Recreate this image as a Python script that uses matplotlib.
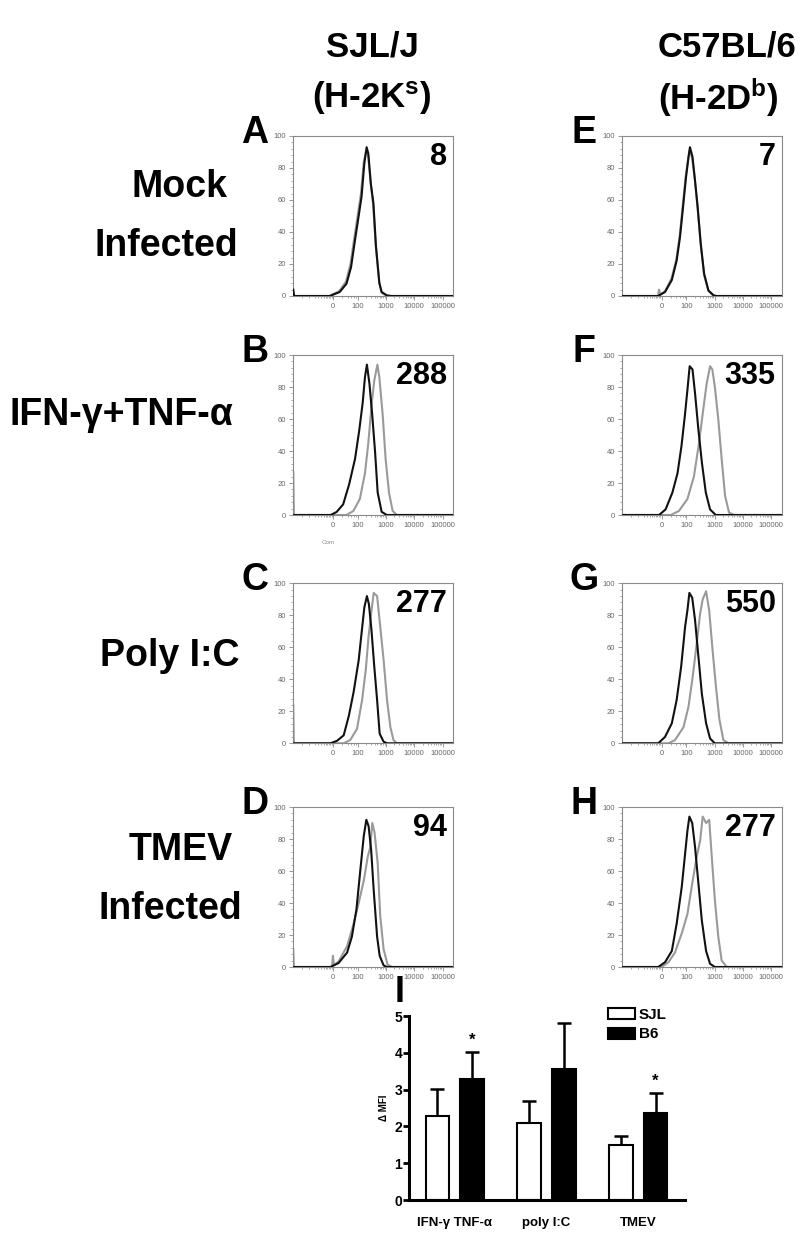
import numpy as np
import matplotlib
matplotlib.use("Agg")
import matplotlib.pyplot as plt
from matplotlib.ticker import FixedLocator, MultipleLocator

plt.rcParams['font.family'] = ['Liberation Sans', 'DejaVu Sans']
plt.rcParams['mathtext.fontset'] = 'custom'
plt.rcParams['mathtext.rm'] = 'Liberation Sans:bold'
plt.rcParams['mathtext.it'] = 'Liberation Sans:bold'
plt.rcParams['mathtext.bf'] = 'Liberation Sans:bold'

# ---- histogram data: (position on display axis in decades, % of max) ----
# x axis labels (biexponential display)
xtick_pos = [1.14, 2, 3, 4, 5]
xtick_lab = ["0", "100", "1000", "10000", "100000"]

# A: SJL/J mock
a_blk = [(-0.27, 4), (-0.24, 0), (1.02, 0), (1.37, 2.5), (1.61, 7.7), (1.77, 18), (1.91, 35),
         (2.03, 49), (2.14, 62), (2.24, 83), (2.32, 93), (2.38, 89), (2.47, 70), (2.56, 58),
         (2.65, 31), (2.77, 8), (2.85, 2.5), (3.03, 0.4), (3.2, 0), (5.37, 0)]
a_gry = [(-0.24, 0), (1.0, 0), (1.35, 3), (1.59, 9), (1.75, 20), (1.89, 37), (2.01, 51),
         (2.12, 64), (2.22, 84), (2.31, 91), (2.37, 88), (2.46, 71), (2.55, 57), (2.64, 32),
         (2.76, 9), (2.85, 2), (3.05, 0), (5.37, 0)]
# B: SJL/J IFN-g + TNF-a
b_blk = [(-0.24, 0), (1.05, 0), (1.26, 1.9), (1.49, 6.6), (1.70, 19), (1.91, 35), (2.06, 53),
         (2.18, 70), (2.26, 86), (2.33, 94), (2.42, 82), (2.52, 62), (2.62, 39), (2.71, 14),
         (2.85, 2), (3.03, 0), (5.37, 0)]
b_gry = [(-0.27, 27), (-0.25, 0), (1.61, 0), (1.85, 2.5), (2.08, 10), (2.26, 26), (2.38, 45),
         (2.50, 70), (2.59, 84), (2.70, 94), (2.77, 86), (2.89, 62), (2.99, 35), (3.11, 14),
         (3.24, 2.5), (3.39, 0), (5.37, 0)]
# C: SJL/J poly I:C
c_blk = [(-0.24, 0), (1.04, 0), (1.27, 1.5), (1.51, 5), (1.69, 17), (1.86, 32), (2.04, 52),
         (2.13, 67), (2.24, 85), (2.33, 92), (2.40, 87), (2.49, 71), (2.59, 48), (2.69, 27),
         (2.78, 6), (2.92, 1), (3.04, 0), (5.37, 0)]
c_gry = [(-0.27, 24), (-0.25, 0), (1.51, 0), (1.74, 2), (1.98, 9), (2.16, 27), (2.29, 46),
         (2.39, 67), (2.48, 81), (2.57, 94), (2.69, 92), (2.80, 73), (2.92, 52), (3.04, 27),
         (3.16, 10), (3.27, 2), (3.39, 0), (5.37, 0)]
# D: SJL/J TMEV
d_blk = [(-0.24, 0), (1.04, 0), (1.33, 2.5), (1.63, 9), (1.80, 19), (1.96, 36), (2.10, 61),
         (2.22, 82), (2.31, 92), (2.39, 88), (2.48, 73), (2.57, 48), (2.69, 19), (2.78, 7),
         (2.92, 1), (3.04, 0), (5.37, 0)]
d_gry = [(-0.27, 11), (-0.25, 0), (1.10, 0), (1.13, 7), (1.16, 1), (1.33, 3.5), (1.63, 13),
         (1.86, 27), (2.04, 40), (2.22, 54), (2.36, 69), (2.45, 75), (2.52, 90), (2.60, 84),
         (2.71, 65), (2.80, 32), (2.92, 11), (3.06, 1.5), (3.22, 0), (5.37, 0)]
# E: C57BL/6 mock
e_blk = [(-0.24, 0), (1.01, 0), (1.25, 2.5), (1.49, 10), (1.66, 22), (1.78, 37), (1.90, 58),
         (1.99, 74), (2.08, 87), (2.13, 93), (2.22, 87), (2.31, 72), (2.40, 56), (2.51, 33),
         (2.63, 14), (2.78, 3.5), (2.96, 0.4), (3.08, 0), (5.37, 0)]
e_gry = [(-0.24, 0), (1.0, 0), (1.04, 4), (1.08, 1), (1.25, 3), (1.48, 11), (1.65, 23),
         (1.77, 38), (1.89, 59), (1.98, 75), (2.07, 86), (2.12, 91), (2.21, 86), (2.30, 73),
         (2.40, 55), (2.51, 32), (2.63, 13), (2.79, 3), (3.0, 0), (5.37, 0)]
# F: C57BL/6 IFN-g + TNF-a
f_blk = [(-0.24, 0), (1.04, 0), (1.27, 3.5), (1.51, 14), (1.69, 26), (1.83, 43), (1.95, 62),
         (2.04, 78), (2.12, 93), (2.22, 91), (2.31, 76), (2.43, 53), (2.55, 33), (2.69, 14),
         (2.84, 3.5), (3.04, 0), (5.37, 0)]
f_gry = [(-0.24, 0), (1.45, 0), (1.74, 2.5), (2.04, 10), (2.27, 24), (2.45, 45), (2.60, 66),
         (2.72, 82), (2.84, 93), (2.92, 91), (3.01, 80), (3.13, 60), (3.25, 35), (3.37, 12),
         (3.51, 1.5), (3.69, 0), (5.37, 0)]
# G: C57BL/6 poly I:C
g_blk = [(-0.24, 0), (1.01, 0), (1.25, 4), (1.49, 12.5), (1.66, 27), (1.82, 48), (1.96, 73),
         (2.04, 83), (2.11, 94), (2.21, 91), (2.31, 77), (2.43, 54), (2.55, 31), (2.70, 12.5),
         (2.84, 3), (3.01, 0), (5.37, 0)]
g_gry = [(-0.24, 0), (1.37, 0), (1.60, 2), (1.90, 10), (2.08, 23), (2.23, 42), (2.37, 62.5),
         (2.49, 81), (2.58, 90), (2.70, 95), (2.81, 83), (2.92, 60), (3.05, 35), (3.17, 15),
         (3.31, 2), (3.49, 0), (5.37, 0)]
# H: C57BL/6 TMEV
h_blk = [(-0.24, 0), (1.01, 0), (1.25, 3), (1.49, 10), (1.66, 27), (1.84, 50), (1.96, 71),
         (2.04, 85), (2.11, 94), (2.21, 90), (2.31, 75), (2.43, 52), (2.55, 29), (2.70, 10),
         (2.84, 2), (3.01, 0), (5.37, 0)]
h_gry = [(-0.24, 0), (1.13, 0), (1.37, 3), (1.60, 9), (1.84, 21), (2.04, 33), (2.19, 50),
         (2.37, 69), (2.49, 79), (2.58, 94), (2.70, 90), (2.81, 92), (2.90, 69), (3.01, 42),
         (3.13, 19), (3.25, 4), (3.43, 0), (5.37, 0)]

panel_letters = ["A", "B", "C", "D", "E", "F", "G", "H"]
panel_mfi = ["8", "288", "277", "94", "7", "335", "550", "277"]

# ---- bar chart data ----
treatments = ["IFN-\u03b3 TNF-\u03b1", "poly I:C", "TMEV"]
sjl_mfi = [2.29, 2.10, 1.49]
sjl_err = [0.72, 0.59, 0.25]
b6_mfi = [3.30, 3.56, 2.37]
b6_err = [0.72, 1.24, 0.54]
signif_b6 = [True, False, True]

W, H = 800, 1238
fig = plt.figure(figsize=(W / 100, H / 100), dpi=100)


def px_axes(l, t, w, h):
    return fig.add_axes([l / W, 1 - (t + h) / H, w / W, h / H])


def txt(x, y, s, **kw):
    fig.text(x / W, 1 - y / H, s, **kw)


frame_c = "#8a8a8a"
lab_c = "#666666"
minor_x = [0.05, 0.3, 0.5, 0.62, 0.72, 0.8, 0.87, 0.93, 0.98, 1.03, 1.08,
           1.45, 1.65, 1.78, 1.87, 1.94]
for dec in (2, 3, 4):
    for k in range(2, 10):
        minor_x.append(dec + np.log10(k))

left_cols = [293, 621.7]
tops = [136, 355, 583.3, 807]
curves = [(a_blk, a_gry), (b_blk, b_gry), (c_blk, c_gry), (d_blk, d_gry),
          (e_blk, e_gry), (f_blk, f_gry), (g_blk, g_gry), (h_blk, h_gry)]

for i, (blk, gry) in enumerate(curves):
    col, row = divmod(i, 4)
    L, T = left_cols[col], tops[row]
    ax = px_axes(L, T, 160, 160)
    gx, gy = zip(*gry)
    bx, by = zip(*blk)
    ax.plot(gx, gy, color="#9a9a9a", lw=1.5, zorder=2)
    ax.plot(bx, by, color="#111111", lw=1.5, zorder=3)
    ax.set_xlim(-0.28, 5.37)
    ax.set_ylim(0, 100)
    ax.set_xticks(xtick_pos)
    ax.set_xticklabels(xtick_lab)
    ax.xaxis.set_minor_locator(FixedLocator(minor_x))
    ax.set_yticks([0, 20, 40, 60, 80, 100])
    ax.yaxis.set_minor_locator(MultipleLocator(4))
    ax.tick_params(which="major", length=3, width=0.6, color=frame_c, labelsize=5.5,
                   labelcolor=lab_c, pad=2)
    ax.tick_params(which="minor", length=1.6, width=0.5, color=frame_c)
    for sp in ax.spines.values():
        sp.set_color(frame_c)
        sp.set_linewidth(0.8)
    txt(L - 38, T - 3, panel_letters[i], fontsize=27, fontweight="bold",
        ha="center", va="center")
    txt(L + 154, T + 21, panel_mfi[i], fontsize=22, fontweight="bold",
        ha="right", va="center")

txt(328, 542, "Com", fontsize=4.5, color="#888888", ha="center", va="center")

# column headers
hdr = dict(fontsize=25, fontweight="bold", ha="center", va="center")
txt(372, 47, "SJL/J", **hdr)
txt(372, 98, r"(H-2K$^{\mathrm{s}}$)", **hdr)
txt(727, 47, "C57BL/6", **hdr)
txt(718, 98, r"(H-2D$^{\mathrm{b}}$)", **hdr)

# row labels
rl = dict(fontsize=27, fontweight="bold", ha="center", va="center")
txt(180, 187, "Mock", **rl)
txt(166, 246, "Infected", **rl)
txt(121, 415, "IFN-\u03b3+TNF-\u03b1", **rl)
txt(170, 656, "Poly I:C", **rl)
txt(181, 850, "TMEV", **rl)
txt(170, 909, "Infected", **rl)

# ---- bar chart I ----
bx = px_axes(409, 1016, 276, 184)
pos = np.arange(len(treatments))
off = 0.19
bw = 0.257
bx.bar(pos - off, sjl_mfi, bw, color="white", edgecolor="black", lw=1.5, label="SJL", zorder=2)
bx.bar(pos + off, b6_mfi, bw, color="black", edgecolor="black", lw=1.5, label="B6", zorder=2)
bx.errorbar(pos - off, sjl_mfi, yerr=[np.zeros(3), sjl_err], fmt="none", ecolor="black",
            elinewidth=1.8, capsize=4.7, capthick=1.8, zorder=1)
bx.errorbar(pos + off, b6_mfi, yerr=[np.zeros(3), b6_err], fmt="none", ecolor="black",
            elinewidth=1.8, capsize=4.7, capthick=1.8, zorder=1)
for p, m, e, s in zip(pos, b6_mfi, b6_err, signif_b6):
    if s:
        bx.text(p + off, m + e + 0.32, "*", fontsize=12, fontweight="bold",
                ha="center", va="center")
bx.set_xlim(-0.5, 2.51)
bx.set_ylim(0, 5)
bx.set_yticks(range(6))
bx.set_xticks(pos)
bx.set_xticklabels(treatments, fontsize=9.5, fontweight="bold")
bx.tick_params(axis="x", length=0, pad=12)
bx.tick_params(axis="y", length=4, width=2, labelsize=10, pad=1)
for t in bx.get_yticklabels():
    t.set_fontweight("bold")
for sp in ["top", "right"]:
    bx.spines[sp].set_visible(False)
for sp in ["left", "bottom"]:
    bx.spines[sp].set_linewidth(2.2)
bx.set_ylabel("\u0394 MFI", fontsize=7, fontweight="bold", labelpad=4)
bx.legend(loc="upper right", bbox_to_anchor=(0.955, 1.076), frameon=False,
          prop=dict(size=11, weight="bold"), handlelength=1.76, handleheight=0.72,
          handletextpad=0.25, labelspacing=0.35, borderaxespad=0)
txt(400, 992, "I", fontsize=26, fontweight="bold", ha="center", va="center")

fig.savefig("out.png", dpi=100)
